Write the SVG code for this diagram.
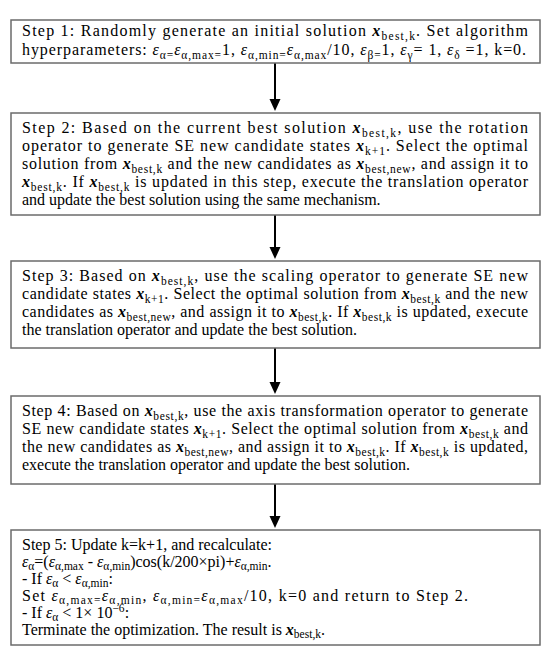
<svg xmlns="http://www.w3.org/2000/svg" width="550" height="662" viewBox="0 0 550 662">
<style>
.box{fill:#fff;stroke:#6b6b6b;stroke-width:1.5}
.t{font-family:"Liberation Serif","Times New Roman",serif;font-size:16px;fill:#000}
.v{font-style:italic;font-weight:bold}
.e{font-style:italic}
.s{font-size:11.5px}
.ln{stroke:#000;stroke-width:2}
</style>
<rect width="550" height="662" fill="#fff"/>
<g id="connectors">
<line class="ln" x1="275" y1="63" x2="275" y2="100"/><polygon points="269.5,99 280.5,99 275,111"/>
<line class="ln" x1="275" y1="215" x2="275" y2="248"/><polygon points="269.5,247 280.5,247 275,259"/>
<line class="ln" x1="275" y1="348" x2="275" y2="383"/><polygon points="269.5,382 280.5,382 275,394"/>
<line class="ln" x1="275" y1="484" x2="275" y2="517"/><polygon points="269.5,516 280.5,516 275,528"/>
</g>
<g id="step1">
<rect class="box" x="11" y="20" width="529" height="43"/>
<text class="t" x="22" y="36" textLength="506" lengthAdjust="spacing">Step 1: Randomly generate an initial solution <tspan class="v">x</tspan><tspan class="s" dy="3.5">best,k</tspan><tspan dy="-3.5">. Set algorithm</tspan></text>
<text class="t" x="22" y="55" textLength="504" lengthAdjust="spacing">hyperparameters: <tspan class="e">ε</tspan><tspan class="s" dy="3.5">α=</tspan><tspan class="e" dy="-3.5">ε</tspan><tspan class="s" dy="3.5">α,max=</tspan><tspan dy="-3.5">1, </tspan><tspan class="e">ε</tspan><tspan class="s" dy="3.5">α,min=</tspan><tspan class="e" dy="-3.5">ε</tspan><tspan class="s" dy="3.5">α,max</tspan><tspan dy="-3.5">/10, </tspan><tspan class="e">ε</tspan><tspan class="s" dy="3.5">β=</tspan><tspan dy="-3.5">1, </tspan><tspan class="e">ε</tspan><tspan class="s" dy="3.5">γ</tspan><tspan dy="-3.5">= 1, </tspan><tspan class="e">ε</tspan><tspan class="s" dy="3.5">δ</tspan><tspan dy="-3.5"> =1, k=0.</tspan></text>
</g>
<g id="step2">
<rect class="box" x="11" y="113" width="529" height="102"/>
<text class="t" x="22" y="133" textLength="506" lengthAdjust="spacing">Step 2: Based on the current best solution <tspan class="v">x</tspan><tspan class="s" dy="3.5">best,k</tspan><tspan dy="-3.5">, use the rotation</tspan></text>
<text class="t" x="22" y="151" textLength="506" lengthAdjust="spacing">operator to generate SE new candidate states <tspan class="v">x</tspan><tspan class="s" dy="3.5">k+1</tspan><tspan dy="-3.5">. Select the optimal</tspan></text>
<text class="t" x="22" y="169" textLength="506" lengthAdjust="spacing">solution from <tspan class="v">x</tspan><tspan class="s" dy="3.5">best,k</tspan><tspan dy="-3.5"> and the new candidates as </tspan><tspan class="v">x</tspan><tspan class="s" dy="3.5">best,new</tspan><tspan dy="-3.5">, and assign it to</tspan></text>
<text class="t" x="22" y="187" textLength="506" lengthAdjust="spacing"><tspan class="v">x</tspan><tspan class="s" dy="3.5">best,k</tspan><tspan dy="-3.5">. If </tspan><tspan class="v">x</tspan><tspan class="s" dy="3.5">best,k</tspan><tspan dy="-3.5"> is updated in this step, execute the translation operator</tspan></text>
<text class="t" x="22" y="205">and update the best solution using the same mechanism.</text>
</g>
<g id="step3">
<rect class="box" x="11" y="261" width="529" height="87"/>
<text class="t" x="22" y="281" textLength="506" lengthAdjust="spacing">Step 3: Based on <tspan class="v">x</tspan><tspan class="s" dy="3.5">best,k</tspan><tspan dy="-3.5">, use the scaling operator to generate SE new</tspan></text>
<text class="t" x="22" y="299" textLength="506" lengthAdjust="spacing">candidate states <tspan class="v">x</tspan><tspan class="s" dy="3.5">k+1</tspan><tspan dy="-3.5">. Select the optimal solution from </tspan><tspan class="v">x</tspan><tspan class="s" dy="3.5">best,k</tspan><tspan dy="-3.5"> and the new</tspan></text>
<text class="t" x="22" y="317" textLength="506" lengthAdjust="spacing">candidates as <tspan class="v">x</tspan><tspan class="s" dy="3.5">best,new</tspan><tspan dy="-3.5">, and assign it to </tspan><tspan class="v">x</tspan><tspan class="s" dy="3.5">best,k</tspan><tspan dy="-3.5">. If </tspan><tspan class="v">x</tspan><tspan class="s" dy="3.5">best,k</tspan><tspan dy="-3.5"> is updated, execute</tspan></text>
<text class="t" x="22" y="335">the translation operator and update the best solution.</text>
</g>
<g id="step4">
<rect class="box" x="11" y="396" width="529" height="88"/>
<text class="t" x="22" y="416" textLength="506" lengthAdjust="spacing">Step 4: Based on <tspan class="v">x</tspan><tspan class="s" dy="3.5">best,k</tspan><tspan dy="-3.5">, use the axis transformation operator to generate</tspan></text>
<text class="t" x="22" y="434" textLength="506" lengthAdjust="spacing">SE new candidate states <tspan class="v">x</tspan><tspan class="s" dy="3.5">k+1</tspan><tspan dy="-3.5">. Select the optimal solution from </tspan><tspan class="v">x</tspan><tspan class="s" dy="3.5">best,k</tspan><tspan dy="-3.5"> and</tspan></text>
<text class="t" x="22" y="452" textLength="506" lengthAdjust="spacing">the new candidates as <tspan class="v">x</tspan><tspan class="s" dy="3.5">best,new</tspan><tspan dy="-3.5">, and assign it to </tspan><tspan class="v">x</tspan><tspan class="s" dy="3.5">best,k</tspan><tspan dy="-3.5">. If </tspan><tspan class="v">x</tspan><tspan class="s" dy="3.5">best,k</tspan><tspan dy="-3.5"> is updated,</tspan></text>
<text class="t" x="22" y="470">execute the translation operator and update the best solution.</text>
</g>
<g id="step5">
<rect class="box" x="11" y="530" width="529" height="115"/>
<text class="t" x="22" y="550">Step 5: Update k=k+1, and recalculate:</text>
<text class="t" x="22" y="567"><tspan class="e">ε</tspan><tspan class="s" dy="3">α</tspan><tspan dy="-3">=(</tspan><tspan class="e">ε</tspan><tspan class="s" dy="3">α,max</tspan><tspan dy="-3"> - </tspan><tspan class="e">ε</tspan><tspan class="s" dy="3">α,min</tspan><tspan dy="-3">)cos(k/200×pi)+</tspan><tspan class="e">ε</tspan><tspan class="s" dy="3">α,min</tspan><tspan dy="-3">.</tspan></text>
<text class="t" x="22" y="584">- If <tspan class="e">ε</tspan><tspan class="s" dy="3">α</tspan><tspan dy="-3"> &lt; </tspan><tspan class="e">ε</tspan><tspan class="s" dy="3">α,min</tspan><tspan dy="-3">:</tspan></text>
<text class="t" x="22" y="601" textLength="446" lengthAdjust="spacing">Set <tspan class="e">ε</tspan><tspan class="s" dy="3">α,max=</tspan><tspan class="e" dy="-3">ε</tspan><tspan class="s" dy="3">α,min</tspan><tspan dy="-3">, </tspan><tspan class="e">ε</tspan><tspan class="s" dy="3">α,min=</tspan><tspan class="e" dy="-3">ε</tspan><tspan class="s" dy="3">α,max</tspan><tspan dy="-3">/10, k=0 and return to Step 2.</tspan></text>
<text class="t" x="22" y="618">- If <tspan class="e">ε</tspan><tspan class="s" dy="3">α</tspan><tspan dy="-3"> &lt; 1× 10</tspan><tspan class="s" dy="-6">−6</tspan><tspan dy="6">:</tspan></text>
<text class="t" x="22" y="635">Terminate the optimization. The result is <tspan class="v">x</tspan><tspan class="s" dy="3">best,k</tspan><tspan dy="-3">.</tspan></text>
</g>
</svg>
